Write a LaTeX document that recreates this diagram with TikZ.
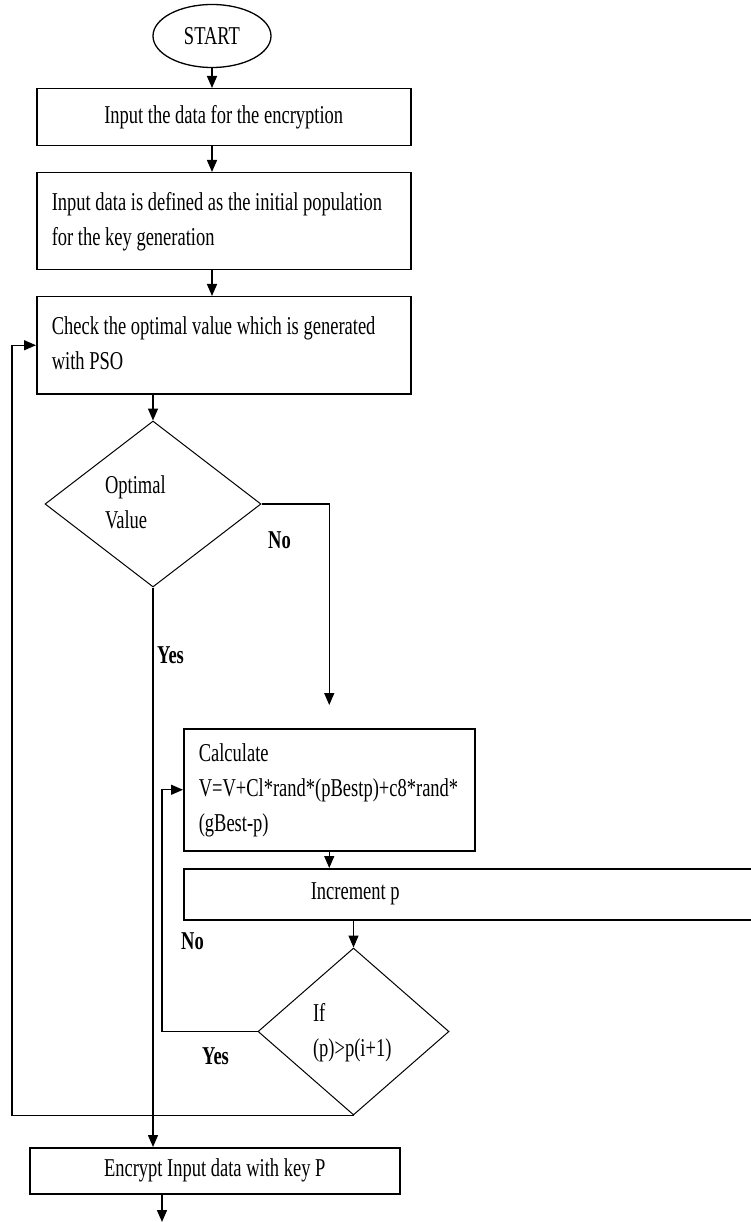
\documentclass[tikz,border=0pt]{standalone}
\usepackage{fontspec}
\setmainfont{Liberation Serif}[FakeStretch=0.72]
\usetikzlibrary{arrows.meta,shapes.geometric}
\setlength{\parindent}{0pt}
\newcommand{\leftlines}[1]{\spaceskip=0pt\xspaceskip=0pt\begin{tabular}{@{}l@{}}#1\end{tabular}}

\begin{document}
\begin{tikzpicture}[x=1pt,y=-1pt,
    font=\fontsize{25.7}{35}\selectfont,
    box/.style={draw,line width=1.5,anchor=north west,inner sep=0pt},
    leftbox/.style={box,inner xsep=15},
    decision/.style={draw,diamond,line width=1,inner sep=0pt},
    flow/.style={line width=1.4,-{Triangle[length=12,width=10]}},
    answer/.style={anchor=base west,inner sep=0pt,font=\fontsize{25.7}{35}\selectfont\bfseries}]
  \useasboundingbox (0,0) rectangle (750,1222);
  \node[draw,ellipse,line width=1.3,minimum width=118,minimum height=63,inner sep=0pt] (start) at (212,36) {START};
  \node[box,minimum width=374,minimum height=57] (input) at (36,88) {Input the data for the encryption};
  \node[leftbox,text width=344,minimum height=97] (population) at (36,172)
    {\leftlines{Input data is defined as the initial population\\for the key generation}};
  \node[leftbox,text width=344,minimum height=97] (check) at (36,296)
    {\leftlines{Check the optimal value which is generated\\with PSO}};
  \node[decision,minimum width=216,minimum height=156,text width=96] (opt) at (153,504) {\leftlines{Optimal\\Value}};
  \node[leftbox,text width=261,minimum height=122] (calc) at (183,728)
    {\leftlines{Calculate\\V=V+Cl*rand*(pBestp)+c8*rand*\\(gBest-p)}};
  \node[box,minimum width=600,minimum height=51] (inc) at (183,868)
    {\makebox[600pt][l]{\hspace*{127pt}Increment p}};
  \node[decision,minimum width=191,minimum height=167,text width=81] (ifp) at (353.5,1031.5) {\leftlines{If\\(p)>p(i+1)}};
  \node[box,minimum width=370,minimum height=46] (enc) at (29,1147) {Encrypt Input data with key P};

  % branch labels
  \foreach \name/\x/\y/\txt in {no1/268/548/No, yes1/157/663/Yes, no2/181/949/No, yes2/202/1064/Yes}
    \node[answer] (\name) at (\x,\y) {\txt};

  \draw[flow] (start.south) -- (start.south |- input.north);
  \draw[flow] (start.south |- input.south) -- (start.south |- population.north);
  \draw[flow] (start.south |- population.south) -- (start.south |- check.north);
  \draw[flow] (opt.north |- check.south) -- (opt.north);
  \draw[flow,shorten >=23] (opt.east) -| (calc.north);
  \draw[flow] (opt.south) -- (opt.south |- enc.north);
  \draw[flow] (calc.south) -- (calc.south |- inc.north);
  \draw[flow] (ifp.north |- inc.south) -- (ifp.north);
  \draw[flow] (ifp.west) -| ([xshift=-21]calc.west) -- (calc.west);
  \draw[flow] (ifp.south) -| ([xshift=-24]check.west) -- (check.west);
  \coordinate (stop) at (162,1222);
  \draw[flow] (stop |- enc.south) -- (stop);
\end{tikzpicture}
\end{document}
